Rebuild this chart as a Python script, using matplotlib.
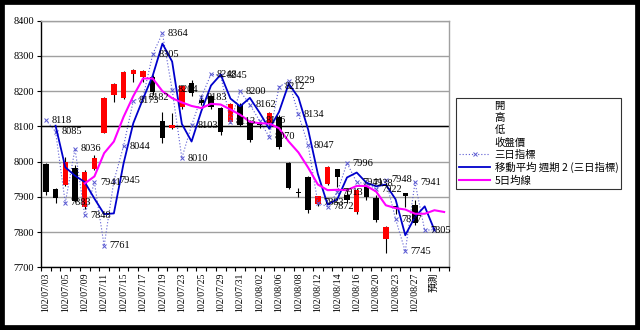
import numpy as np
import matplotlib.pyplot as plt
from matplotlib.lines import Line2D
from matplotlib.patches import Rectangle

plt.rcParams['font.family'] = ['Liberation Serif', 'Noto Sans CJK TC']

# 交易日 (民國 102 年)
dates = ["102/07/03", "102/07/04", "102/07/05", "102/07/08", "102/07/09", "102/07/10",
         "102/07/11", "102/07/12", "102/07/15", "102/07/16", "102/07/17", "102/07/18",
         "102/07/19", "102/07/22", "102/07/23", "102/07/24", "102/07/25", "102/07/26",
         "102/07/29", "102/07/30", "102/07/31", "102/08/01", "102/08/02", "102/08/05",
         "102/08/06", "102/08/07", "102/08/08", "102/08/09", "102/08/12", "102/08/13",
         "102/08/14", "102/08/15", "102/08/16", "102/08/19", "102/08/20", "102/08/22",
         "102/08/23", "102/08/26", "102/08/27", "102/08/28", "預測", ""]

# K線 開/高/低/收
opens = [7992, 7921, 7934, 7981, 7872, 7978, 8082, 8189, 8180, 8248, 8241, 8241, 8115,
         8094, 8156, 8224, 8175, 8186, 8151, 8113, 8161, 8113, 8106, 8109, 8128, 7995,
         7914, 7957, 7880, 7936, 7978, 7905, 7858, 7929, 7896, 7779, 7872, 7910, 7877]
highs = [7995, 7925, 8014, 7990, 7975, 8020, 8182, 8222, 8258, 8262, 8260, 8245, 8142,
         8137, 8218, 8232, 8190, 8190, 8155, 8166, 8166, 8118, 8115, 8140, 8132, 7998,
         7925, 7960, 7903, 7988, 7980, 7920, 7925, 7935, 7905, 7818, 7878, 7912, 7891]
lows = [7905, 7882, 7930, 7885, 7866, 7975, 8080, 8170, 8178, 8227, 8227, 8190, 8052,
        8092, 8150, 8185, 8160, 8150, 8075, 8110, 8100, 8055, 8095, 8105, 8035, 7922,
        7900, 7855, 7875, 7934, 7929, 7882, 7852, 7890, 7828, 7740, 7850, 7872, 7820]
closes = [7914, 7896, 8000, 7889, 7970, 8009, 8180, 8220, 8255, 8260, 8258, 8198, 8066,
          8104, 8215, 8196, 8167, 8156, 8085, 8164, 8104, 8061, 8104, 8137, 8042, 7924,
          7911, 7863, 7902, 7985, 7955, 7891, 7919, 7900, 7834, 7815, 7872, 7902, 7825]

# 三日指標
idx3 = [8118, 8085, 7883, 8036, 7848, 7941, 7761, 7945, 8044, 8173, 8182, 8305, 8364,
        8204, 8010, 8103, 8183, 8248, 8245, 8113, 8200, 8162, 8116, 8070, 8212, 8229,
        8134, 8047, 7883, 7872, 7913, 7996, 7941, 7938, 7922, 7948, 7837, 7745, 7941,
        7805, 7807]

# 移動平均 週期 2 (三日指標), 從第 2 天開始
ma2 = [8102, 7984, 7960, 7942, 7895, 7851, 7853, 7995, 8109, 8178, 8244, 8335, 8284,
       8107, 8057, 8143, 8216, 8247, 8179, 8157, 8181, 8139, 8093, 8141, 8221, 8182,
       8091, 7965, 7878, 7893, 7955, 7969, 7940, 7930, 7935, 7893, 7791, 7843, 7873,
       7806]

# 5日均線, 從第 5 天開始
ma5 = [7938, 7958, 8024, 8057, 8127, 8186, 8236, 8236, 8200, 8180, 8168, 8158, 8152,
       8164, 8162, 8148, 8133, 8113, 8109, 8108, 8095, 8057, 8026, 7983, 7935, 7919,
       7920, 7919, 7931, 7931, 7915, 7876, 7868, 7864, 7852, 7852, 7862, 7857]

fig = plt.figure(figsize=(6.4, 3.3), dpi=100, facecolor='white')
# 外框 (黑邊)
fig.patches.append(Rectangle((0, 0), 1, 1, transform=fig.transFigure, fill=False,
                             edgecolor='black', lw=7, zorder=10))
ax = fig.add_axes([41 / 640, 1 - 267.3 / 330, 408 / 640, (267.3 - 20.7) / 330])

# 格線
ax.set_ylim(7700, 8400)
ax.set_yticks(range(7700, 8401, 100))
ax.yaxis.grid(True, color='#a0a0a0', lw=1)
ax.set_axisbelow(True)
ax.axhline(8100, color='black', lw=1, zorder=1)

# K線
o = np.array(opens)
c = np.array(closes)
xk = np.arange(len(opens))
ax.vlines(xk, lows, highs, color='black', lw=0.8, zorder=2)
body = np.maximum(np.abs(c - o), 3)
colors = ['#ff0000' if cc > oo else 'black' for oo, cc in zip(o, c)]
ax.bar(xk, body, bottom=np.minimum(o, c), width=0.55, color=colors, zorder=3)

# 三日指標
mk_color = '#5a5ad2'
x3 = np.arange(len(idx3))
ax.plot(x3, idx3, color=mk_color, ls=(0, (1, 1.8)), lw=0.8, marker='x', ms=3.5,
        mew=0.7, zorder=4)
for i, v in enumerate(idx3[:40]):
    ax.annotate(str(v), (i, v), xytext=(4, 0), textcoords='offset points',
                ha='left', va='center', fontsize=7.5, annotation_clip=False, zorder=6)

# 移動平均線
ax.plot(np.arange(1, 1 + len(ma2)), ma2, color='#0000cc', lw=1.3, zorder=5)
ax.plot(np.arange(4, 4 + len(ma5)), ma5, color='#ff00ff', lw=1.5, zorder=5)

ax.set_xlim(-0.5, len(dates) - 0.5)
ax.set_xticks(np.arange(0, len(dates), 2))
ax.set_xticklabels(dates[::2], rotation=90, fontsize=7)
ax.set_xticks(np.arange(-0.5, len(dates), 1), minor=True)
ax.tick_params(axis='x', which='major', length=0, pad=4)
ax.tick_params(axis='x', which='minor', length=3, direction='out', width=0.8)
ax.tick_params(axis='y', length=3, direction='out', width=0.8, labelsize=7.5, pad=2)

for s in ['left', 'bottom']:
    ax.spines[s].set_color('black')
    ax.spines[s].set_linewidth(1)
for s in ['top', 'right']:
    ax.spines[s].set_color('#a0a0a0')
    ax.spines[s].set_linewidth(1)

# 圖例
empty = Line2D([], [], linestyle='none')
h3 = Line2D([], [], color=mk_color, ls=(0, (1, 1.8)), lw=0.8, marker='x', ms=3.5, mew=0.7)
hma2 = Line2D([], [], color='#0000cc', lw=1.3)
hma5 = Line2D([], [], color='#ff00ff', lw=1.5)
leg = fig.legend([empty, empty, empty, empty, h3, hma2, hma5],
                 ['開', '高', '低', '收盤價', '三日指標', '移動平均 週期 2 (三日指標)', '5日均線'],
                 loc='upper left', bbox_to_anchor=(456 / 640, 1 - 98 / 330),
                 frameon=True, fancybox=False, edgecolor='black',
                 prop={'family': ['Noto Sans CJK TC'], 'size': 7.5},
                 handlelength=3.0, handletextpad=0.4, labelspacing=0.2,
                 borderpad=0.3, borderaxespad=0)
leg.get_frame().set_linewidth(0.8)

fig.savefig('out.png', dpi=100)
